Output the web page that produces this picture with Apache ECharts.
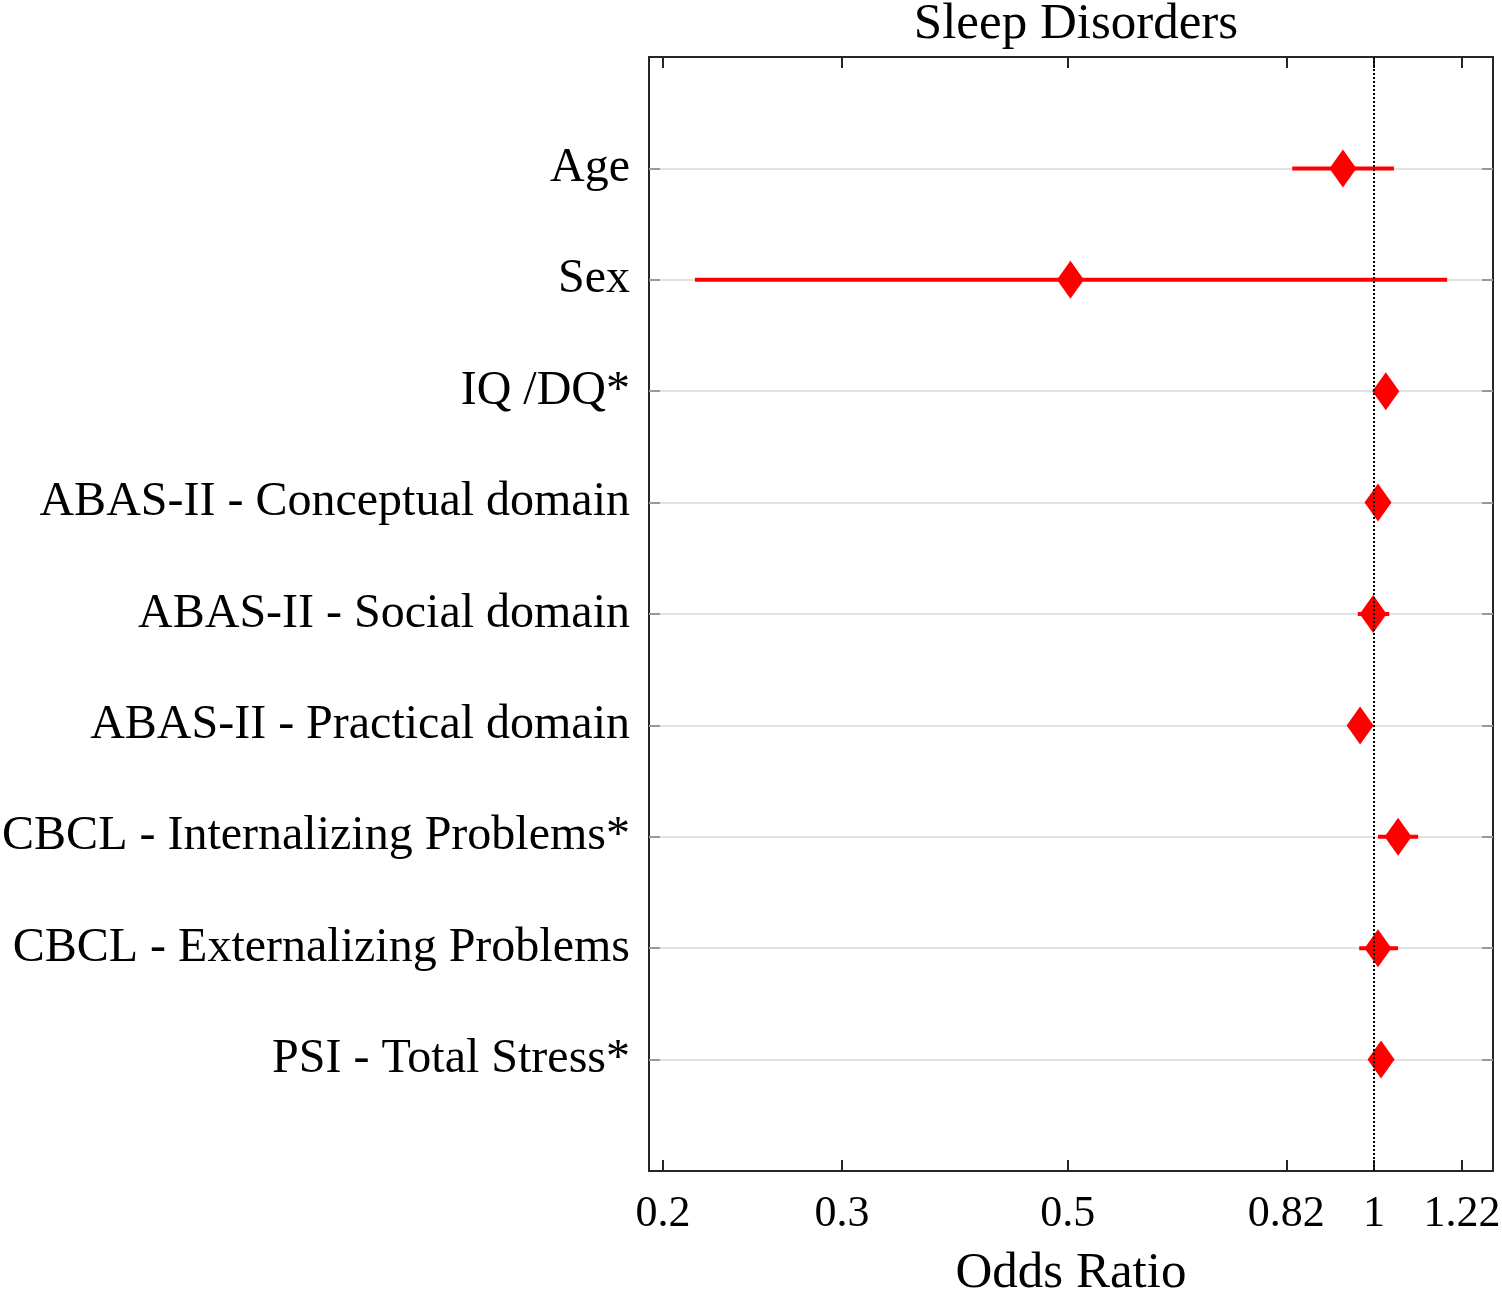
<!DOCTYPE html>
<html>
<head>
<meta charset="utf-8">
<script src="https://cdn.jsdelivr.net/npm/echarts@6/dist/echarts.min.js"></script>
<style>
  html, body { margin: 0; background: #fff; }
  #chart { width: 1502px; height: 1293px; }
</style>
</head>
<body>
<div id="chart"></div>
<script>
// ---------------- data ----------------
const categories = [
    "Age",
    "Sex",
    "IQ /DQ*",
    "ABAS-II - Conceptual domain",
    "ABAS-II - Social domain",
    "ABAS-II - Practical domain",
    "CBCL - Internalizing Problems*",
    "CBCL - Externalizing Problems",
    "PSI - Total Stress*",
];
const oddsRatio = [0.932, 0.503, 1.027, 1.009, 0.998, 0.969, 1.056, 1.009, 1.016];
const ciLow     = [0.831, 0.215, 1.012, 0.998, 0.964, 0.955, 1.009, 0.967, 1.006];
const ciHigh    = [1.046, 1.180, 1.043, 1.020, 1.035, 0.983, 1.105, 1.056, 1.026];
const xTicks = [0.2, 0.3, 0.5, 0.82, 1, 1.22];
const rowTicks = categories.map((_, i) => i + 1);

// ---------------- style ----------------
const FONT = "Liberation Serif";
const INK = "#262626";
const RED = "#ff0000";

const rows = categories.map((c, i) => [oddsRatio[i], i + 1, ciLow[i], ciHigh[i]]);

function fmtTick(v) {
    return String(Number(Number(v).toFixed(2)));
}

const xBase = {
    type: "log",
    logBase: 10,
    min: 0.1938,
    max: 1.309,
    axisLine: { show: true, onZero: false, lineStyle: { color: INK, width: 2 } },
    axisTick: { show: true, inside: true, length: 11, customValues: xTicks, lineStyle: { color: INK, width: 2 } },
    splitLine: { show: false },
    minorTick: { show: false },
};

const yBase = {
    type: "value",
    min: 0,
    max: 10,
    inverse: true,
    axisLine: { show: true, onZero: false, lineStyle: { color: INK, width: 2 } },
    axisTick: { show: true, inside: true, length: 11, customValues: rowTicks, lineStyle: { color: "#999", width: 2 } },
};

const chart = echarts.init(document.getElementById("chart"));

chart.setOption({
    animation: false,
    title: {
        text: "Sleep Disorders",
        left: 1071,
        top: -6,
        textAlign: "center",
        textStyle: { fontFamily: FONT, fontSize: 51, fontWeight: "normal", color: "#000" },
    },
    // fixed plot box; don't let v6 shrink it to fit labels
    grid: { left: 649, right: 9, top: 57, bottom: 122, containLabel: false, outerBoundsMode: "none" },
    xAxis: [
        {
            ...xBase,
            position: "bottom",
            name: "Odds Ratio",
            nameLocation: "middle",
            nameGap: 77,
            nameTextStyle: { fontFamily: FONT, fontSize: 51, color: "#000" },
            axisLabel: {
                show: true,
                customValues: xTicks,
                margin: 21,
                formatter: fmtTick,
                fontFamily: FONT,
                fontSize: 44,
                color: "#000",
            },
        },
        { ...xBase, position: "top", axisLabel: { show: false } },
    ],
    yAxis: [
        {
            ...yBase,
            position: "left",
            axisLabel: {
                show: true,
                customValues: rowTicks,
                margin: 19,
                formatter: (v) => categories[Math.round(v) - 1] || "",
                fontFamily: FONT,
                fontSize: 48,
                color: "#000",
            },
            splitLine: { show: true, lineStyle: { color: "#d9d9d9", width: 1.5 } },
        },
        { ...yBase, position: "right", axisLabel: { show: false }, splitLine: { show: false } },
    ],
    series: [
        {
            // confidence intervals
            type: "custom",
            z: 2,
            data: rows,
            encode: { x: [0, 2, 3], y: 1 },
            renderItem: (params, api) => {
                const y = api.value(1);
                const p0 = api.coord([api.value(2), y]);
                const p1 = api.coord([api.value(3), y]);
                return {
                    type: "line",
                    shape: { x1: p0[0], y1: p0[1], x2: p1[0], y2: p1[1] },
                    style: { stroke: RED, lineWidth: 4 },
                };
            },
        },
        {
            // reference line at OR = 1
            type: "line",
            z: 3,
            data: [],
            markLine: {
                silent: true,
                symbol: "none",
                label: { show: false },
                lineStyle: { color: "#000", type: [2, 2], width: 2 },
                data: [{ xAxis: 1 }],
            },
        },
        {
            // point estimates
            type: "scatter",
            z: 4,
            symbol: "diamond",
            symbolSize: [27, 38],
            itemStyle: { color: RED, opacity: 1 },
            data: rows.map((r) => [r[0], r[1]]),
        },
    ],
});
</script>
</body>
</html>
